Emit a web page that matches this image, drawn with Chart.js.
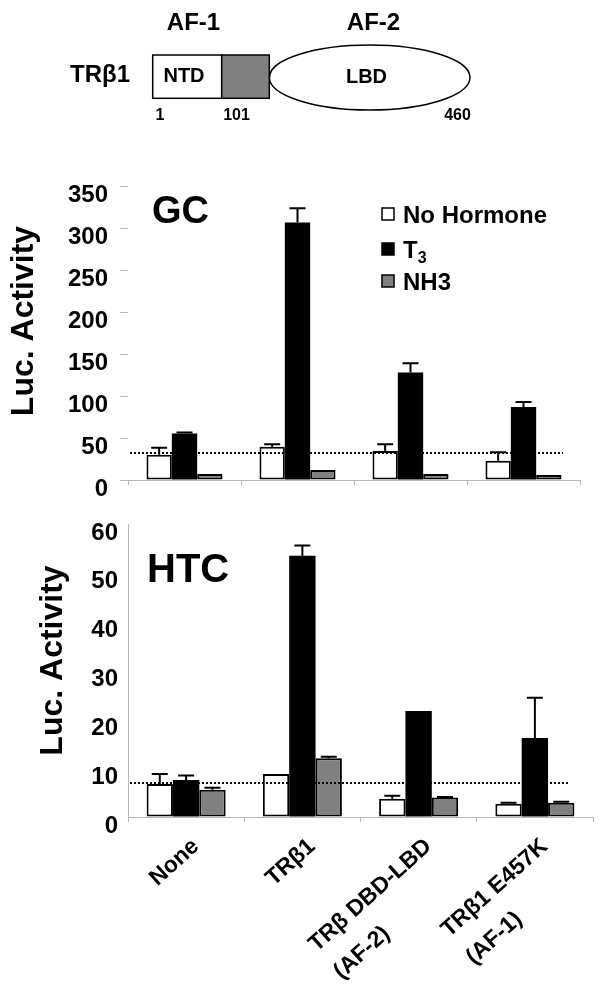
<!DOCTYPE html>
<html>
<head>
<meta charset="utf-8">
<script src="https://cdn.jsdelivr.net/npm/chart.js@4.4.1/dist/chart.umd.min.js"></script>
<style>
  body { margin: 0; background: #fff; }
  #page { position: relative; width: 602px; height: 998px; overflow: hidden; background: #fff; }
  canvas { position: absolute; left: 0; }
  #gc { top: 170px; }
  #htc { top: 500px; }
  svg { position: absolute; left: 0; top: 0; pointer-events: none; }
</style>
</head>
<body>
<div id="page">
  <canvas id="gc" width="602" height="330"></canvas>
  <canvas id="htc" width="602" height="498"></canvas>

  <svg width="602" height="998" font-family="Liberation Sans, Arial, sans-serif" font-weight="bold">
    <!-- domain diagram -->
    <text x="193.5" y="30" font-size="24" text-anchor="middle">AF-1</text>
    <text x="373.5" y="30" font-size="24" text-anchor="middle">AF-2</text>
    <text x="100" y="82" font-size="24" text-anchor="middle">TRβ1</text>
    <ellipse cx="369.7" cy="77.5" rx="100.3" ry="32.5" fill="#fff" stroke="#000" stroke-width="1.5"/>
    <rect x="152.7" y="55" width="69" height="43.3" fill="#fff" stroke="#000" stroke-width="1.5"/>
    <rect x="221.7" y="55" width="47.6" height="43.3" fill="#808080" stroke="#000" stroke-width="1.5"/>
    <text x="184" y="82" font-size="20" text-anchor="middle">NTD</text>
    <text x="366.5" y="83" font-size="20" text-anchor="middle">LBD</text>
    <text x="160" y="120" font-size="16" text-anchor="middle">1</text>
    <text x="236.5" y="120" font-size="16" text-anchor="middle">101</text>
    <text x="457.5" y="120" font-size="16" text-anchor="middle">460</text>

    <!-- panel titles -->
    <text x="152" y="223" font-size="38">GC</text>
    <text x="147" y="582" font-size="40">HTC</text>

    <g id="legend"></g>
  </svg>
</div>

<script>
// categories (x axis), split into lines
const categories = [["None"], ["TRβ1"], ["TRβ DBD-LBD", "(AF-2)"], ["TRβ1 E457K", "(AF-1)"]];
const seriesNames = ["No Hormone", "T3", "NH3"];
const seriesFill = ["#ffffff", "#000000", "#808080"];

// GC cells
const gcNoHormone = [30, 39.5, 34.5, 23];
const gcNoHormoneErr = [8.5, 3, 8, 10];
const gcT3 = [55.5, 306.5, 128, 87];
const gcT3Err = [1, 17, 11, 6];
const gcNH3 = [7, 12, 7, 6];
const gcNH3Err = [0, 0, 0, 0];
const gcBaseline = 32;
const gcYMax = 350;
const gcYStep = 50;

// HTC cells
const htcNoHormone = [6.75, 8.8, 3.75, 2.7];
const htcNoHormoneErr = [2.05, 0, 0.6, 0.2];
const htcT3 = [7.6, 53.5, 21.7, 16.2];
const htcT3Err = [0.9, 2.1, 0, 8.2];
const htcNH3 = [5.6, 12.05, 4.0, 2.9];
const htcNH3Err = [0.4, 0.3, 0.1, 0.2];
const htcBaseline = 7;
const htcYMax = 60;
const htcYStep = 10;

const yTitle = "Luc. Activity";

const FONT = "'Liberation Sans', Arial, sans-serif";
const AXIS_GREY = "#b8b8b8";

const errorBarPlugin = {
  id: "errorBars",
  afterDatasetsDraw(chart) {
    const { ctx, scales } = chart;
    ctx.save();
    ctx.strokeStyle = "#000";
    ctx.lineWidth = 2;
    chart.data.datasets.forEach((ds, di) => {
      const meta = chart.getDatasetMeta(di);
      meta.data.forEach((bar, i) => {
        const err = ds.errors[i];
        if (!err) return;
        const top = scales.y.getPixelForValue(ds.data[i] + err);
        ctx.beginPath();
        ctx.moveTo(bar.x, bar.y);
        ctx.lineTo(bar.x, top);
        ctx.moveTo(bar.x - 8, top);
        ctx.lineTo(bar.x + 8, top);
        ctx.stroke();
      });
    });
    ctx.restore();
  },
};

const baselinePlugin = {
  id: "baseline",
  afterDatasetsDraw(chart, args, opts) {
    const { ctx, chartArea, scales } = chart;
    const py = Math.round(scales.y.getPixelForValue(opts.value));
    ctx.save();
    ctx.strokeStyle = "#000";
    ctx.lineWidth = 2;
    ctx.setLineDash([2, 2]);
    ctx.beginPath();
    ctx.moveTo(chartArea.left + 2, py);
    ctx.lineTo(chartArea.right - opts.endGap, py);
    ctx.stroke();
    ctx.restore();
  },
};

// the axis title sits a little above the middle of the axis in the original
const yTitlePlugin = {
  id: "yTitle",
  afterDraw(chart, args, opts) {
    const { ctx, chartArea, scales } = chart;
    ctx.save();
    ctx.font = `bold 32px ${FONT}`;
    ctx.fillStyle = "#000";
    ctx.textAlign = "center";
    ctx.textBaseline = "middle";
    ctx.translate(scales.y.left + opts.x, (chartArea.top + chartArea.bottom) / 2 + opts.shift);
    ctx.rotate(-Math.PI / 2);
    ctx.fillText(opts.text, 0, 0);
    ctx.restore();
  },
};

// slanted category names, lines left aligned like the original figure
const slantedLabelPlugin = {
  id: "slantedLabels",
  afterDraw(chart, args, opts) {
    if (!opts.display) return;
    const { ctx, chartArea, scales } = chart;
    ctx.save();
    ctx.font = `bold 23px ${FONT}`;
    ctx.fillStyle = "#000";
    ctx.textAlign = "left";
    ctx.textBaseline = "alphabetic";
    chart.data.labels.forEach((lines, i) => {
      const px = scales.x.getPixelForValue(i) + 14;
      const py = chartArea.bottom + 31;
      ctx.save();
      ctx.translate(px, py);
      ctx.rotate((-42 * Math.PI) / 180);
      const w1 = ctx.measureText(lines[0]).width;
      lines.forEach((line, k) => ctx.fillText(line, -w1, k * 37));
      ctx.restore();
    });
    ctx.restore();
  },
};

function makeDatasets(values, errors) {
  return values.map((data, k) => ({
    label: seriesNames[k],
    data,
    errors: errors[k],
    backgroundColor: seriesFill[k],
    borderColor: "#000",
    borderWidth: k == 1 ? 0 : 2,
    borderSkipped: false,
  }));
}

function makeChart(id, cfg) {
  return new Chart(document.getElementById(id), {
    type: "bar",
    data: {
      labels: categories,
      datasets: makeDatasets(cfg.values, cfg.errors),
    },
    plugins: [errorBarPlugin, baselinePlugin, yTitlePlugin, slantedLabelPlugin],
    options: {
      responsive: false,
      animation: false,
      events: [],
      layout: { autoPadding: false, padding: cfg.padding },
      datasets: { bar: { categoryPercentage: cfg.catPct, barPercentage: 1 } },
      plugins: {
        legend: { display: false },
        tooltip: { enabled: false },
        baseline: { value: cfg.baseline, endGap: cfg.endGap },
        yTitle: { text: yTitle, x: cfg.titleX, shift: cfg.titleShift },
        slantedLabels: { display: cfg.showLabels },
      },
      scales: {
        x: {
          afterFit: (s) => { s.height = cfg.xHeight; },
          ticks: { display: false },
          grid: { offset: true, drawOnChartArea: false, drawTicks: true, tickLength: 5, color: AXIS_GREY },
          border: { display: true, color: AXIS_GREY, width: 1 },
        },
        y: {
          min: 0,
          max: cfg.yMax,
          afterFit: (s) => {
            s.width = 128;
            s.paddingTop = 0;
            s.paddingBottom = 0;
          },
          ticks: {
            stepSize: cfg.yStep,
            padding: cfg.tickPad,
            labelOffset: 9,
            color: "#000",
            font: { family: FONT, size: 24, weight: "bold" },
          },
          grid: { drawOnChartArea: false, drawTicks: cfg.yTickMarks, tickLength: 8, color: AXIS_GREY },
          border: { display: cfg.yBorder, color: AXIS_GREY, width: 1 },
        },
      },
    },
  });
}

makeChart("gc", {
  values: [gcNoHormone, gcT3, gcNH3],
  errors: [gcNoHormoneErr, gcT3Err, gcNH3Err],
  baseline: gcBaseline,
  yMax: gcYMax,
  yStep: gcYStep,
  padding: { top: 16, right: 22, bottom: 0, left: 0 },
  xHeight: 20,
  catPct: 0.673,
  endGap: 17,
  tickPad: 12,
  yTickMarks: true,
  yBorder: false,
  titleX: 24,
  titleShift: -12,
  showLabels: false,
});

makeChart("htc", {
  values: [htcNoHormone, htcT3, htcNH3],
  errors: [htcNoHormoneErr, htcT3Err, htcNH3Err],
  baseline: htcBaseline,
  yMax: htcYMax,
  yStep: htcYStep,
  padding: { top: 24, right: 9, bottom: 0, left: 0 },
  xHeight: 181,
  catPct: 0.68,
  endGap: 25,
  tickPad: 10,
  yTickMarks: false,
  yBorder: true,
  titleX: 53,
  titleShift: -10,
  showLabels: true,
});

// legend for the GC panel
const legend = document.getElementById("legend");
const ns = "http://www.w3.org/2000/svg";
const legendRows = [223, 258, 290];
seriesNames.forEach((name, k) => {
  const box = document.createElementNS(ns, "rect");
  box.setAttribute("x", 382);
  box.setAttribute("y", legendRows[k] - 15);
  box.setAttribute("width", 12);
  box.setAttribute("height", 12);
  box.setAttribute("fill", seriesFill[k]);
  box.setAttribute("stroke", "#000");
  box.setAttribute("stroke-width", 1.5);
  legend.appendChild(box);

  const text = document.createElementNS(ns, "text");
  text.setAttribute("x", 403);
  text.setAttribute("y", legendRows[k]);
  text.setAttribute("font-size", 24);
  if (name == "T3") {
    text.textContent = "T";
    const sub = document.createElementNS(ns, "tspan");
    sub.setAttribute("font-size", 16);
    sub.setAttribute("dy", 5);
    sub.textContent = "3";
    text.appendChild(sub);
  } else {
    text.textContent = name;
  }
  legend.appendChild(text);
});
</script>
</body>
</html>
